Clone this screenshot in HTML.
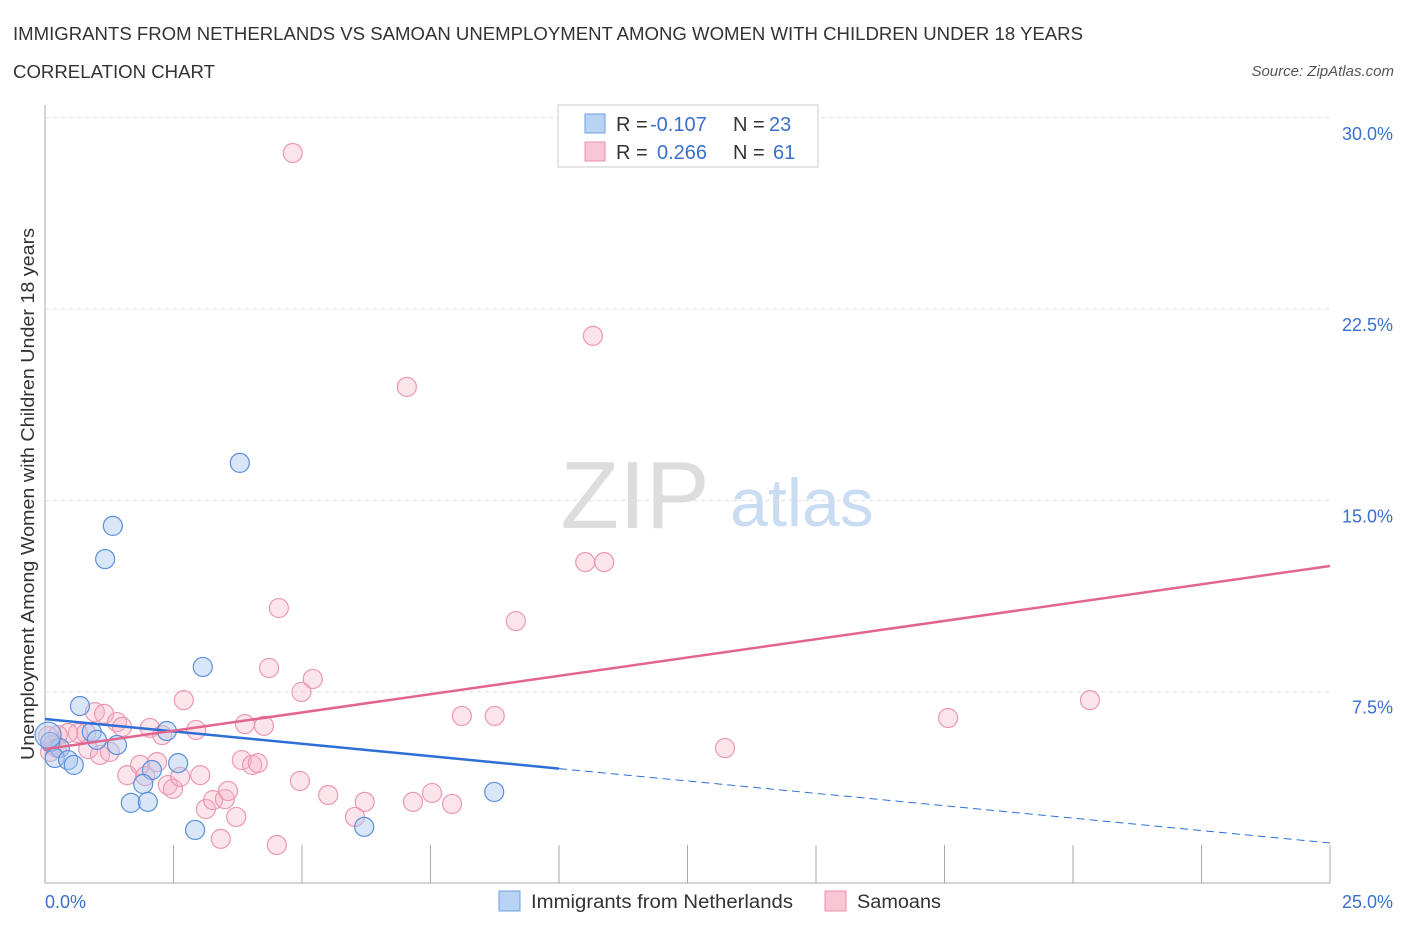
<!DOCTYPE html>
<html><head><meta charset="utf-8"><style>
body{margin:0;background:#fff;font-family:"Liberation Sans",sans-serif;}
svg text{font-family:"Liberation Sans",sans-serif;}
</style></head><body>
<svg width="1406" height="930" id="chart">
<text x="13" y="40" font-size="18" fill="#333" textLength="1070" lengthAdjust="spacingAndGlyphs">IMMIGRANTS FROM NETHERLANDS VS SAMOAN UNEMPLOYMENT AMONG WOMEN WITH CHILDREN UNDER 18 YEARS</text>
<text x="13" y="78" font-size="18" fill="#333" textLength="202" lengthAdjust="spacingAndGlyphs">CORRELATION CHART</text>
<text x="1394" y="76" font-size="15" fill="#555" font-style="italic" text-anchor="end">Source: ZipAtlas.com</text>
<text x="635" y="528" font-size="96" fill="#ddd" font-family="Liberation Serif" text-anchor="middle">ZIP</text>
<text x="802" y="526" font-size="68" fill="#c9dcf2" text-anchor="middle">atlas</text>
<text transform="translate(34,494) rotate(-90)" font-size="18" fill="#333" text-anchor="middle" textLength="532" lengthAdjust="spacingAndGlyphs">Unemployment Among Women with Children Under 18 years</text>
<g id="grid"></g><g id="marks"></g>
<g>
<rect x="558" y="105" width="260" height="62" fill="#fff" stroke="#ccc"/>
<rect x="585" y="114" width="20" height="19" fill="#b9d3f5" stroke="#6d9fe0"/>
<rect x="585" y="142" width="20" height="19" fill="#f9c6d5" stroke="#e890ab"/>
<text x="616" y="131" font-size="20" fill="#333">R =</text>
<text x="650" y="131" font-size="20" fill="#3a6fd0">-0.107</text>
<text x="733" y="131" font-size="20" fill="#333">N =</text>
<text x="769" y="131" font-size="20" fill="#3a6fd0">23</text>
<text x="616" y="159" font-size="20" fill="#333">R =</text>
<text x="657" y="159" font-size="20" fill="#3a6fd0">0.266</text>
<text x="733" y="159" font-size="20" fill="#333">N =</text>
<text x="773" y="159" font-size="20" fill="#3a6fd0">61</text>
</g>
<g>
<rect x="499" y="891" width="21" height="20" fill="#b9d3f5" stroke="#6d9fe0"/>
<text x="531" y="908" font-size="19" fill="#333" textLength="262" lengthAdjust="spacingAndGlyphs">Immigrants from Netherlands</text>
<rect x="825" y="891" width="21" height="20" fill="#f9c6d5" stroke="#e890ab"/>
<text x="857" y="908" font-size="19" fill="#333" textLength="84" lengthAdjust="spacingAndGlyphs">Samoans</text>
</g>
</svg>
<script>
const yTicks=[7.5,15,22.5,30];
const yTickLabels=["7.5%","15.0%","22.5%","30.0%"];
const xTickLabels=["0.0%","25.0%"];
const blueX=[3.79,1.32,1.17,3.07,0.68,2.37,0.91,1.01,1.40,0.29,0.10,0.19,0.45,0.56,2.59,2.08,1.91,1.67,2.00,2.92,6.21,8.74,0.06];
const blueY=[16.47,14.0,12.7,8.47,6.94,5.96,5.92,5.61,5.41,5.29,5.53,4.90,4.82,4.63,4.70,4.43,3.88,3.14,3.18,2.08,2.20,3.57,5.80];
const pinkX=[4.82,10.66,7.04,10.51,10.88,9.16,4.55,4.36,5.21,4.99,2.70,20.33,17.57,8.11,8.75,13.23,0.97,1.15,1.40,1.50,2.04,2.28,2.94,3.89,4.26,0.80,0.64,0.45,0.25,0.06,0.14,0.23,0.84,1.07,1.26,1.60,1.85,1.95,2.18,2.39,2.49,2.63,3.02,3.83,4.03,4.14,4.96,5.51,3.13,3.27,3.50,3.56,3.72,3.42,4.51,6.03,6.22,7.16,7.53,7.92,0.10];
const pinkY=[28.62,21.45,19.45,12.58,12.58,10.27,10.78,8.43,8.00,7.49,7.17,7.17,6.47,6.55,6.55,5.29,6.70,6.63,6.31,6.12,6.08,5.80,6.00,6.23,6.16,5.88,5.88,5.88,5.80,5.76,5.41,5.29,5.25,5.02,5.14,4.23,4.63,4.19,4.74,3.84,3.69,4.16,4.23,4.82,4.63,4.70,4.00,3.45,2.90,3.25,3.29,3.61,2.59,1.73,1.49,2.59,3.18,3.18,3.53,3.10,5.14];
const blueTrend=[6.43,1.57];
const pinkTrend=[5.25,12.43];
const NS="http://www.w3.org/2000/svg";
const X=v=>45+v/25*1285, Y=v=>883-v/7.5*191.3;
function mk(t,a,p){const e=document.createElementNS(NS,t);for(const k in a)e.setAttribute(k,a[k]);p.appendChild(e);return e;}
const g=document.getElementById('grid'),m=document.getElementById('marks');
let ax=mk('line',{x1:45,y1:105,x2:45,y2:883,stroke:'#aaa'},g);


let bx=mk('line',{x1:45,y1:883,x2:1330,y2:883,stroke:'#aaa'},g);


yTicks.forEach((t,i)=>{
 let l=mk('line',{x1:45,y1:Y(t),x2:1330,y2:Y(t),stroke:'#ddd','stroke-dasharray':'4,4'},g);
 
 
 let tx=mk('text',{x:1393,y:Y(t)+22,'font-size':18,fill:'#3a6fd0','text-anchor':'end'},g);tx.textContent=yTickLabels[i];
 
 
});
for(let i=1;i<=10;i++){let l=mk('line',{x1:X(i*2.5),y1:845,x2:X(i*2.5),y2:883,stroke:'#aaa'},g);
 
 }
[[0,'start',45],[25,'end',1393]].forEach((d,i)=>{let t=mk('text',{x:d[2],y:908,'font-size':18,fill:'#3a6fd0','text-anchor':d[1]},g);t.textContent=xTickLabels[i];
 
 });
pinkX.forEach((x,i)=>{let c=mk('circle',{cx:X(x),cy:Y(pinkY[i]),r:9.5,fill:'rgba(247,178,199,0.35)',stroke:'#eb98b3','stroke-width':1.2},m);
 
 });
blueX.forEach((x,i)=>{let c=mk('circle',{cx:X(x),cy:Y(blueY[i]),r:i==22?13:9.5,fill:'rgba(170,200,240,0.45)',stroke:'#5b8fdc','stroke-width':1.2},m);
 
 });
const bAt=v=>blueTrend[0]+(blueTrend[1]-blueTrend[0])*v/25;
let b1=mk('line',{x1:X(0),y1:Y(bAt(0)),x2:X(10),y2:Y(bAt(10)),stroke:'#2d6fd6','stroke-width':2.5},m);


let b2=mk('line',{x1:X(10),y1:Y(bAt(10)),x2:X(25),y2:Y(bAt(25)),stroke:'#2d6fd6','stroke-width':1,'stroke-dasharray':'8,5'},m);


let p1=mk('line',{x1:X(0),y1:Y(pinkTrend[0]),x2:X(25),y2:Y(pinkTrend[1]),stroke:'#e3658e','stroke-width':2.5},m);


</script>
</body></html>
